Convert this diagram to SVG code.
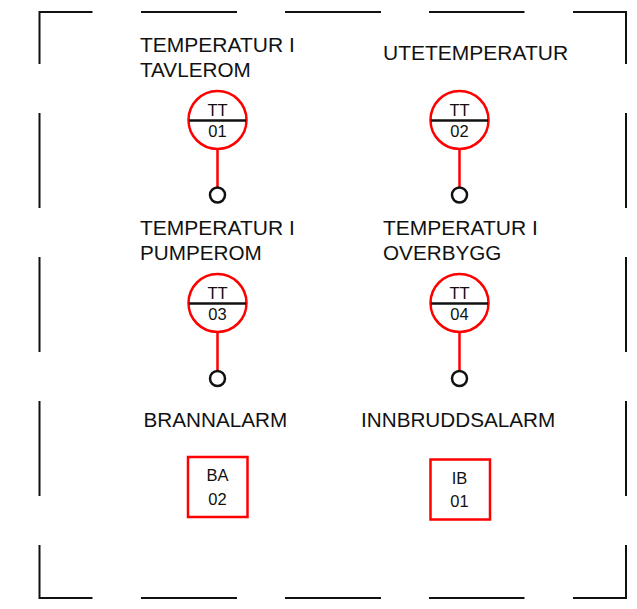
<svg xmlns="http://www.w3.org/2000/svg" width="637" height="609" viewBox="0 0 637 609">
<style>
text{font-family:"Liberation Sans",Arial,sans-serif;fill:#111}
.l{font-size:21px}
.m{font-size:20.700px}
.s{font-size:16.500px;text-anchor:middle}
.f{fill:none;stroke:#111;stroke-width:2}
.r{fill:#fff;stroke:#f00;stroke-width:2.5}
.b{stroke:#111;stroke-width:2.5}
.st{stroke:#f00;stroke-width:2.5}
.o{fill:#fff;stroke:#111;stroke-width:2.5}
</style>
<rect width="637" height="609" fill="#fff"/>
<g id="frame" class="f">
<path d="M39.5 64V12H92.5M141 12H237M285 12H381M429 12H524.5M573 12H626V64M626 113V208M626 257V352M626 401V496M626 545V598H573M524.5 598H429M381 598H285M237 598H141M92.5 598H39.5V545M39.5 496V401M39.5 352V257M39.5 208V113"/>
</g>
<g id="connectors">
<line class="st" x1="217.500" y1="149" x2="217.500" y2="188"/>
<line class="st" x1="459.500" y1="149" x2="459.500" y2="188"/>
<line class="st" x1="217.500" y1="332" x2="217.500" y2="371"/>
<line class="st" x1="459.500" y1="332" x2="459.500" y2="371"/>
</g>
<g id="tt01">
<text class="l" x="140" y="52">TEMPERATUR I</text><text class="m" x="140" y="77">TAVLEROM</text>
<circle class="r" cx="217.500" cy="120" r="29"/><line class="b" x1="189" y1="120.500" x2="246" y2="120.500"/>
<text class="s" x="217.500" y="116">TT</text><text class="s" x="217.500" y="137">01</text>
<circle class="o" cx="217.500" cy="195" r="7.500"/>
</g>
<g id="tt02">
<text class="l" x="383" y="60">UTETEMPERATUR</text>
<circle class="r" cx="459.500" cy="120" r="29"/><line class="b" x1="431" y1="120.500" x2="488" y2="120.500"/>
<text class="s" x="459.500" y="116">TT</text><text class="s" x="459.500" y="137">02</text>
<circle class="o" cx="459.500" cy="195" r="7.500"/>
</g>
<g id="tt03">
<text class="l" x="140" y="235">TEMPERATUR I</text><text class="m" x="140" y="260">PUMPEROM</text>
<circle class="r" cx="217.500" cy="303" r="29"/><line class="b" x1="189" y1="303.500" x2="246" y2="303.500"/>
<text class="s" x="217.500" y="299">TT</text><text class="s" x="217.500" y="320">03</text>
<circle class="o" cx="217.500" cy="378.500" r="7.500"/>
</g>
<g id="tt04">
<text class="l" x="383" y="235">TEMPERATUR I</text><text class="m" x="383" y="260">OVERBYGG</text>
<circle class="r" cx="459.500" cy="303" r="29"/><line class="b" x1="431" y1="303.500" x2="488" y2="303.500"/>
<text class="s" x="459.500" y="299">TT</text><text class="s" x="459.500" y="320">04</text>
<circle class="o" cx="459.500" cy="378.500" r="7.500"/>
</g>
<g id="ba02">
<text class="m" x="143.500" y="427">BRANNALARM</text>
<rect class="r" x="188" y="457" width="59.500" height="60"/>
<text class="s" x="217.500" y="481">BA</text><text class="s" x="217.500" y="505">02</text>
</g>
<g id="ib01">
<text class="m" x="361" y="427">INNBRUDDSALARM</text>
<rect class="r" x="430.500" y="459.500" width="59.500" height="60"/>
<text class="s" x="459.500" y="484">IB</text><text class="s" x="459.500" y="507">01</text>
</g>
</svg>
